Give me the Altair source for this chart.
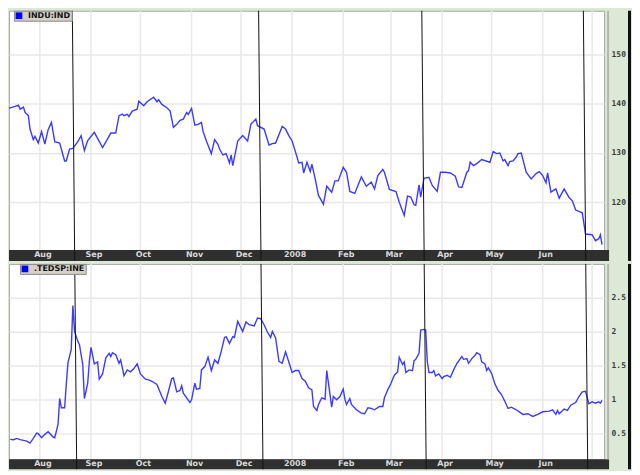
import altair as alt
import pandas as pd

# ---------------- data ----------------
top_name = "INDU:IND"
top_dates = [
    "2007-07-11", "2007-07-12", "2007-07-13", "2007-07-17", "2007-07-19", "2007-07-20", "2007-07-22",
    "2007-07-23", "2007-07-25", "2007-07-26", "2007-07-28", "2007-07-29", "2007-07-31", "2007-08-02",
    "2007-08-04", "2007-08-06", "2007-08-08", "2007-08-10", "2007-08-13", "2007-08-16", "2007-08-17",
    "2007-08-19", "2007-08-21", "2007-08-24", "2007-08-26", "2007-08-28", "2007-08-30", "2007-09-03",
    "2007-09-05", "2007-09-08", "2007-09-11", "2007-09-13", "2007-09-16", "2007-09-18", "2007-09-20",
    "2007-09-21", "2007-09-23", "2007-09-24", "2007-09-26", "2007-09-29", "2007-09-30", "2007-10-03",
    "2007-10-05", "2007-10-09", "2007-10-11", "2007-10-12", "2007-10-14", "2007-10-17", "2007-10-19",
    "2007-10-21", "2007-10-23", "2007-10-25", "2007-10-27", "2007-10-29", "2007-10-30", "2007-11-01",
    "2007-11-03", "2007-11-05", "2007-11-07", "2007-11-08", "2007-11-10", "2007-11-13", "2007-11-15",
    "2007-11-17", "2007-11-18", "2007-11-20", "2007-11-22", "2007-11-24", "2007-11-25", "2007-11-26",
    "2007-11-29", "2007-12-02", "2007-12-05", "2007-12-07", "2007-12-10", "2007-12-11", "2007-12-15",
    "2007-12-18", "2007-12-20", "2007-12-22", "2007-12-26", "2007-12-28", "2007-12-30", "2008-01-01",
    "2008-01-03", "2008-01-05", "2008-01-07", "2008-01-08", "2008-01-10", "2008-01-12", "2008-01-13",
    "2008-01-15", "2008-01-17", "2008-01-20", "2008-01-22", "2008-01-25", "2008-01-27", "2008-01-29",
    "2008-02-01", "2008-02-03", "2008-02-05", "2008-02-08", "2008-02-12", "2008-02-15", "2008-02-18",
    "2008-02-20", "2008-02-22", "2008-02-25", "2008-02-26", "2008-02-29", "2008-03-04", "2008-03-06",
    "2008-03-09", "2008-03-11", "2008-03-13", "2008-03-15", "2008-03-16", "2008-03-18", "2008-03-19",
    "2008-03-21", "2008-03-24", "2008-03-26", "2008-03-29", "2008-03-31", "2008-04-03", "2008-04-06",
    "2008-04-09", "2008-04-11", "2008-04-13", "2008-04-16", "2008-04-17", "2008-04-18", "2008-04-20",
    "2008-04-22", "2008-04-25", "2008-04-30", "2008-05-02", "2008-05-04", "2008-05-06", "2008-05-08",
    "2008-05-09", "2008-05-11", "2008-05-12", "2008-05-14", "2008-05-16", "2008-05-17", "2008-05-19",
    "2008-05-22", "2008-05-25", "2008-05-28", "2008-05-30", "2008-06-01", "2008-06-03", "2008-06-04",
    "2008-06-06", "2008-06-09", "2008-06-11", "2008-06-14", "2008-06-17", "2008-06-19", "2008-06-21",
    "2008-06-23", "2008-06-25", "2008-06-27", "2008-07-01", "2008-07-03", "2008-07-05", "2008-07-06",
    "2008-07-07",
]
top_values = [
    13616, 13818, 13899, 13940, 13966, 13885, 13925,
    13818, 13752, 13481, 13267, 13333, 13198, 13428,
    13178, 13469, 13616, 13226, 13198, 12835, 12835,
    13077, 13091, 13226, 13348, 13045, 13247, 13414,
    13293, 13105, 13279, 13400, 13400, 13752, 13784,
    13752, 13778, 13737, 13845, 13885, 14047, 13954,
    14034, 14127, 14034, 14075, 13980, 13913, 13845,
    13515, 13576, 13657, 13683, 13818, 13778, 13899,
    13562, 13576, 13616, 13428, 13239, 12984, 13267,
    13172, 13077, 12956, 12984, 12794, 12956, 12742,
    13239, 13348, 13239, 13582, 13683, 13550, 13481,
    13158, 13186, 13198, 13535, 13481, 13348, 13239,
    13024, 12794, 12808, 12592, 12808, 12620, 12768,
    12471, 12136, 11960, 12323, 12202, 12431, 12431,
    12707, 12606, 12216, 12176, 12511, 12323, 12404,
    12269, 12540, 12661, 12606, 12257, 12216, 12000,
    11732, 12121, 12101, 11946, 11934, 12350, 12101,
    12485, 12505, 12338, 12216, 12606, 12606, 12592,
    12525, 12309, 12297, 12606, 12633, 12808, 12742,
    12782, 12863, 12808, 13024, 12984, 12996, 12835,
    12863, 12742, 12822, 12835, 12915, 12984, 12996,
    12606, 12471, 12580, 12620, 12540, 12390, 12592,
    12202, 12269, 12081, 12269, 12095, 12027, 11839,
    11812, 11784, 11354, 11340, 11219, 11259, 11340,
    11138,
]

bot_name = ".TEDSP:INE"
bot_dates = [
    "2007-07-14", "2007-07-16", "2007-07-18", "2007-07-20", "2007-07-24", "2007-07-26", "2007-07-28",
    "2007-07-30", "2007-07-31", "2007-08-02", "2007-08-04", "2007-08-06", "2007-08-09", "2007-08-10",
    "2007-08-12", "2007-08-13", "2007-08-14", "2007-08-16", "2007-08-17", "2007-08-18", "2007-08-20",
    "2007-08-21", "2007-08-22", "2007-08-24", "2007-08-25", "2007-08-27", "2007-08-28", "2007-08-30",
    "2007-08-31", "2007-09-01", "2007-09-03", "2007-09-05", "2007-09-06", "2007-09-08", "2007-09-10",
    "2007-09-12", "2007-09-13", "2007-09-14", "2007-09-16", "2007-09-18", "2007-09-19", "2007-09-21",
    "2007-09-23", "2007-09-25", "2007-09-27", "2007-09-29", "2007-10-01", "2007-10-04", "2007-10-06",
    "2007-10-08", "2007-10-11", "2007-10-14", "2007-10-16", "2007-10-18", "2007-10-20", "2007-10-21",
    "2007-10-23", "2007-10-25", "2007-10-26", "2007-10-27", "2007-10-29", "2007-10-31", "2007-11-01",
    "2007-11-03", "2007-11-04", "2007-11-06", "2007-11-07", "2007-11-09", "2007-11-11", "2007-11-13",
    "2007-11-15", "2007-11-17", "2007-11-19", "2007-11-21", "2007-11-22", "2007-11-24", "2007-11-26",
    "2007-11-27", "2007-11-29", "2007-12-02", "2007-12-04", "2007-12-06", "2007-12-09", "2007-12-11",
    "2007-12-13", "2007-12-15", "2007-12-17", "2007-12-19", "2007-12-20", "2007-12-22", "2007-12-24",
    "2007-12-26", "2007-12-28", "2007-12-30", "2008-01-01", "2008-01-03", "2008-01-05", "2008-01-07",
    "2008-01-09", "2008-01-11", "2008-01-13", "2008-01-14", "2008-01-16", "2008-01-17", "2008-01-19",
    "2008-01-21", "2008-01-22", "2008-01-24", "2008-01-25", "2008-01-26", "2008-01-28", "2008-01-30",
    "2008-02-01", "2008-02-02", "2008-02-03", "2008-02-05", "2008-02-06", "2008-02-09", "2008-02-12",
    "2008-02-14", "2008-02-16", "2008-02-18", "2008-02-20", "2008-02-23", "2008-02-25", "2008-02-26",
    "2008-02-28", "2008-03-01", "2008-03-03", "2008-03-05", "2008-03-06", "2008-03-08", "2008-03-09",
    "2008-03-10", "2008-03-12", "2008-03-14", "2008-03-15", "2008-03-16", "2008-03-18", "2008-03-19",
    "2008-03-21", "2008-03-22", "2008-03-23", "2008-03-24", "2008-03-26", "2008-03-27", "2008-03-28",
    "2008-03-30", "2008-04-01", "2008-04-02", "2008-04-04", "2008-04-06", "2008-04-08", "2008-04-10",
    "2008-04-13", "2008-04-14", "2008-04-16", "2008-04-17", "2008-04-19", "2008-04-21", "2008-04-22",
    "2008-04-24", "2008-04-25", "2008-04-27", "2008-04-28", "2008-04-29", "2008-05-01", "2008-05-03",
    "2008-05-05", "2008-05-07", "2008-05-09", "2008-05-11", "2008-05-13", "2008-05-16", "2008-05-20",
    "2008-05-23", "2008-05-26", "2008-05-29", "2008-06-01", "2008-06-05", "2008-06-07", "2008-06-09",
    "2008-06-10", "2008-06-11", "2008-06-14", "2008-06-16", "2008-06-18", "2008-06-21", "2008-06-23",
    "2008-06-25", "2008-06-27", "2008-06-29", "2008-07-01", "2008-07-03", "2008-07-05", "2008-07-06",
    "2008-07-07",
]
bot_values = [
    0.417, 0.412, 0.431, 0.412, 0.392, 0.362, 0.431,
    0.509, 0.500, 0.441, 0.490, 0.529, 0.450, 0.441,
    0.636, 1.017, 0.881, 0.881, 1.222, 1.540, 1.734,
    2.383, 2.002, 1.856, 1.807, 1.515, 1.017, 1.241,
    1.563, 1.768, 1.525, 1.554, 1.300, 1.378, 1.613,
    1.680, 1.632, 1.690, 1.661, 1.534, 1.583, 1.349,
    1.437, 1.408, 1.456, 1.525, 1.378, 1.300, 1.291,
    1.270, 1.222, 1.046, 0.948, 1.124, 1.310, 1.320,
    1.115, 1.134, 1.203, 1.094, 1.027, 0.958, 0.998,
    1.241, 1.153, 1.163, 1.437, 1.485, 1.622, 1.427,
    1.583, 1.534, 1.709, 1.914, 1.925, 1.827, 1.925,
    1.914, 2.149, 2.002, 2.140, 2.100, 2.081, 2.198,
    2.188, 2.100, 1.993, 1.914, 2.002, 1.906, 1.563,
    1.534, 1.701, 1.554, 1.398, 1.427, 1.427, 1.310,
    1.270, 1.173, 1.144, 0.900, 0.841, 0.929, 1.027,
    1.007, 1.427, 1.075, 0.889, 1.046, 0.998, 1.046,
    1.153, 1.007, 0.929, 1.017, 0.929, 0.851, 0.802,
    0.793, 0.881, 0.871, 0.851, 0.900, 0.900, 1.027,
    1.144, 1.241, 1.358, 1.408, 1.622, 1.515, 1.554,
    1.398, 1.437, 1.427, 1.573, 1.592, 1.680, 2.023,
    2.032, 2.023, 1.563, 1.398, 1.398, 1.427, 1.349,
    1.378, 1.310, 1.339, 1.358, 1.329, 1.437, 1.534,
    1.632, 1.592, 1.603, 1.534, 1.603, 1.651, 1.690,
    1.661, 1.554, 1.525, 1.427, 1.466, 1.387, 1.232,
    1.134, 1.075, 0.977, 0.871, 0.889, 0.851, 0.783,
    0.793, 0.753, 0.783, 0.822, 0.831, 0.851, 0.783,
    0.841, 0.793, 0.861, 0.841, 0.919, 0.958, 1.046,
    1.115, 1.124, 0.939, 0.968, 0.948, 0.968, 0.948,
    0.988,
]

month_ticks = ["2007-08-01", "2007-09-01", "2007-10-01", "2007-11-01", "2007-12-01", "2008-01-01",
               "2008-02-01", "2008-03-01", "2008-04-01", "2008-05-01", "2008-06-01", "2008-07-01"]
month_labels = ["Aug", "Sep", "Oct", "Nov", "Dec", "2008", "Feb", "Mar", "Apr", "May", "Jun"]
event_dates = ["2007-08-22", "2007-12-13", "2008-03-21", "2008-06-27"]

top_ticks = [12000, 13000, 14000, 15000]
bot_ticks = [0.5, 1, 1.5, 2, 2.5]

# ---------------- layout / style ----------------
W = 597
H1, BAND1 = 240, 11
H2, BAND2 = 196, 10
BLUE = "#3b3bff"
GRID = "#e8e8e8"

x_scale = alt.Scale(
    type="utc",
    domain=[alt.DateTime(year=2007, month=7, date=13, hours=6, utc=True),
            alt.DateTime(year=2008, month=7, date=8, hours=6, utc=True)],
)
X = alt.X("date:T", scale=x_scale, axis=None)

one_row = alt.Data(values=[{}])


def panel(dates, values, name, H, band, y_domain, y_ticks, axis_fmt, legend_x, legend_y, offs):
    df = pd.DataFrame({"date": dates, "value": values, "series": name})

    vgrid = alt.Chart(pd.DataFrame({"date": month_ticks})).mark_rule(
        color=GRID, strokeWidth=1.5
    ).encode(x=X)

    line = alt.Chart(df).mark_line(strokeWidth=1.4, clip=True).encode(
        x=X,
        y=alt.Y(
            "value:Q",
            scale=alt.Scale(domain=y_domain, nice=False, zero=False),
            axis=alt.Axis(
                orient="right", values=y_ticks, grid=True, gridColor=GRID, gridWidth=1.5,
                domain=False, ticks=False, tickSize=0, labelPadding=7, labelAlign="left",
                labelFont="DejaVu Sans Mono", labelFontWeight="bold", labelFontSize=8,
                labelColor="#3a3a3a", title=None, **axis_fmt,
            ),
        ),
        color=alt.Color(
            "series:N",
            scale=alt.Scale(domain=[name], range=[BLUE]),
            legend=alt.Legend(
                title=None, orient="none", legendX=legend_x, legendY=legend_y,
                symbolType="square", symbolSize=45, symbolFillColor="#0000ff",
                symbolStrokeColor="#0000ff", symbolStrokeWidth=0,
                fillColor="#d4d0c8", strokeColor="#8a8a8a", padding=1,
                labelFont="DejaVu Sans", labelFontWeight="bold", labelFontSize=8,
                labelColor="#111111", labelOffset=5, zindex=1,
            ),
        ),
    )

    band_rect = alt.Chart(one_row).mark_rect(color="#2f2f2f").encode(
        x=alt.value(0), x2=alt.value(W + 5), y=alt.value(H), y2=alt.value(H + band)
    )

    labels = alt.Chart(
        pd.DataFrame({"date": month_ticks[: len(month_labels)], "label": month_labels})
    ).mark_text(
        color="#d9d9d9", font="DejaVu Sans", fontWeight="bold", fontSize=8, dx=3, baseline="middle"
    ).encode(x=X, y=alt.value(H + band / 2), text="label:N")

    rules = alt.Chart(pd.DataFrame({"date": event_dates})).mark_rule(
        color="#111111", strokeWidth=1, xOffset=offs[0], x2Offset=offs[1]
    ).encode(x=X, x2=alt.X2("date:T"), y=alt.value(0), y2=alt.value(H + band))

    border = alt.Chart(one_row).mark_rect(color="#b4b4b4").encode(
        x=alt.value(W + 3), x2=alt.value(W + 5), y=alt.value(0), y2=alt.value(H)
    )
    stripe = alt.Chart(one_row).mark_rect(color="#111111").encode(
        x=alt.value(W + 24), x2=alt.value(W + 27), y=alt.value(0), y2=alt.value(H + band)
    )

    return alt.layer(vgrid, line, band_rect, labels, rules, border, stripe).properties(
        width=W, height=H
    )


top = panel(top_dates, top_values, top_name, H1, BAND1, [11031, 15879], top_ticks,
            {"labelExpr": "substring(format(datum.value, 'd'), 0, 3)"}, 5, 0, (-2.2, 0.2))
bottom = panel(bot_dates, bot_values, bot_name, H2, BAND2, [0.124, 2.993], bot_ticks,
               {"format": "~g"}, 11, 0, (0.2, 2.2))

chart = (
    alt.vconcat(top, bottom, spacing=0)
    .resolve_scale(color="independent", x="independent", y="independent")
    .resolve_legend(color="independent")
    .properties(padding=0, background="#dde9d7")
    .configure_view(fill="white", stroke="#a8a8a8", strokeWidth=1)
)

chart.save("out.html", embed_options={"renderer": "svg", "actions": False})
